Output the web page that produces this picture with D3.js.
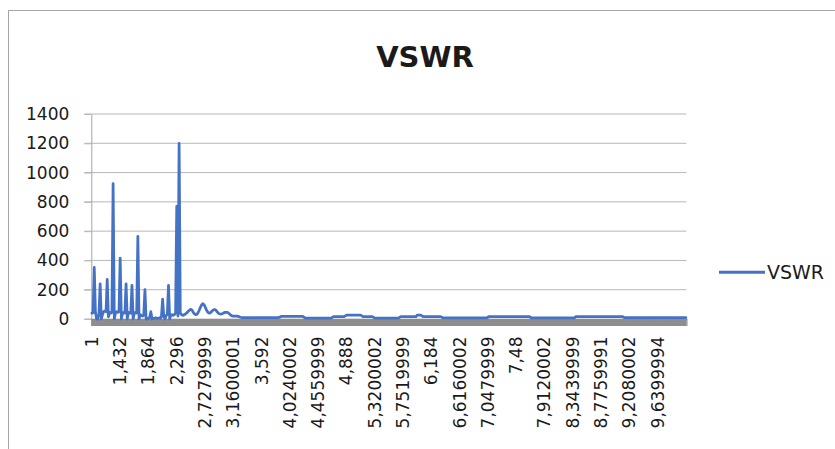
<!DOCTYPE html>
<html>
<head>
<meta charset="utf-8">
<script src="https://cdnjs.cloudflare.com/ajax/libs/d3/7.8.5/d3.min.js"></script>
<style>
  body { margin: 0; background: #ffffff; }
  #vswr-chart text { font-family: 'DejaVu Sans', sans-serif; fill: #1a1a1a; }
</style>
</head>
<body>
<div id="vswr-chart"></div>
<script>
'use strict'

// frequency sweep: one category per point, a label on every 24th one
var CATEGORY_COUNT = 505;
var LABEL_STEP = 24;
var seriesName = 'VSWR';

var tickLabels = [
  '1', '1,432', '1,864', '2,296', '2,7279999', '3,1600001', '3,592',
  '4,0240002', '4,4559999', '4,888', '5,3200002', '5,7519999', '6,184',
  '6,6160002', '7,0479999', '7,48', '7,9120002', '8,3439999', '8,7759991',
  '9,2080002', '9,6399994'
];

var yTicks = [0, 200, 400, 600, 800, 1000, 1200, 1400];

// category index of each read point
var pointIndex = [
  0, 1, 2, 3, 4, 5, 6, 7, 8, 9, 10, 11, 12, 13, 14, 15, 16, 17, 18, 19,
  20, 21, 22, 23, 24, 25, 26, 27, 28, 29, 30, 31, 32, 33, 34, 35, 36, 37, 38, 39,
  40, 41, 42, 43, 44, 45, 46, 47, 48, 49, 50, 51, 52, 53, 54, 55, 56, 57, 58, 59,
  60, 61, 62, 63, 64, 65, 66, 67, 68, 69, 70, 71, 72, 73, 74, 75, 76, 77, 78, 79,
  80, 81, 82, 83, 84, 85, 86, 87, 88, 89, 90, 91, 92, 93, 94, 95, 96, 97, 98, 99,
  100, 101, 102, 103, 104, 105, 106, 107, 108, 109, 110, 111, 112, 113, 114, 115, 116, 117, 118, 119,
  120, 121, 122, 123, 124, 125, 126, 127,
  129, 158, 161, 179, 181, 203, 205, 214, 216, 228, 230, 238, 240, 260, 262, 275,
  276, 279, 281, 296, 298, 335, 337, 371, 373, 409, 411, 450, 452, 504
];

// VSWR read at those points
var vswr = [
  40, 42, 352, 50, 0, 0, 35, 240, 0, 30, 50, 55, 50, 270, 15, 45, 40, 45, 925, 0,
  40, 50, 45, 50, 415, 0, 40, 45, 40, 240, 0, 45, 40, 40, 230, 0, 40, 45, 40, 565,
  0, 30, 25, 20, 25, 200, 0, 0, 5, 10, 50, 0, 5, 5, 8, 5, 5, 8, 5, 15,
  135, 20, 0, 25, 30, 230, 0, 25, 30, 25, 30, 40, 770, 20, 1200, 40, 30, 25, 28, 32,
  38, 45, 55, 62, 66, 60, 45, 35, 30, 32, 42, 58, 78, 95, 104, 100, 85, 65, 50, 42,
  40, 45, 55, 62, 65, 62, 52, 42, 36, 34, 35, 38, 42, 45, 46, 45, 40, 32, 25, 21,
  19, 19, 20, 20, 18, 15, 12, 10,
  9, 9, 18, 18, 6, 6, 16, 16, 26, 26, 16, 16, 6, 6, 16, 16,
  27, 27, 16, 16, 7, 7, 17, 17, 7, 7, 17, 17, 9, 9
];

var app = {
  init: function() {
    this.dimensions = { width: 835, height: 449 };
    this.plot = { left: 91.3, right: 686.5, top: 114, bottom: 319 };
    this.tickLength = 7;

    this.svg = d3.select('#vswr-chart')
      .append('svg')
      .attr('width', app.dimensions.width)
      .attr('height', app.dimensions.height)
      .style('display', 'block');

    // chart frame, only the top and left edges fall inside the picture
    app.svg.append('rect')
      .attr('x', 8.5)
      .attr('y', 10.5)
      .attr('width', 900)
      .attr('height', 500)
      .attr('style', 'fill: #ffffff; stroke: #a6a6a6; stroke-width: 1;');

    this.x = d3.scaleLinear()
      .domain([0, CATEGORY_COUNT])
      .range([app.plot.left, app.plot.right]);

    this.y = d3.scaleLinear()
      .domain([0, 1400])
      .range([app.plot.bottom, app.plot.top]);

    app.draw();
  },

  draw: function() {
    var x = app.x;
    var y = app.y;

    app.svg.append('text')
      .attr('x', 425)
      .attr('y', 66.7)
      .attr('text-anchor', 'middle')
      .style('font-size', '29px')
      .style('font-weight', 'bold')
      .text(seriesName);

    //Gridlines
    app.svg.append('g')
      .attr('id', 'grid')
      .selectAll('line')
      .data(yTicks)
      .enter()
      .append('line')
      .attr('x1', app.plot.left - app.tickLength)
      .attr('x2', app.plot.right)
      .attr('y1', function(d) { return y(d); })
      .attr('y2', function(d) { return y(d); })
      .attr('style', 'stroke: #b8b8b8; stroke-width: 1;');

    //Y axis
    var yAxis = app.svg.append('g')
      .attr('id', 'y-axis')
      .attr('transform', 'translate(' + app.plot.left + ', 0)')
      .call(d3.axisLeft(y)
        .tickValues(yTicks)
        .tickFormat(d3.format('d'))
        .tickSize(app.tickLength)
        .tickSizeOuter(0)
        .tickPadding(15));
    yAxis.select('.domain').attr('style', 'stroke: #a6a6a6;');
    yAxis.selectAll('.tick line').attr('style', 'stroke: #b8b8b8;');
    yAxis.selectAll('text')
      .style('font-size', '17px')
      .attr('fill', null);

    //Category tick marks: one per point, so dense they merge into a grey band
    var xAxis = app.svg.append('g')
      .attr('id', 'x-axis')
      .attr('transform', 'translate(0, ' + app.plot.bottom + ')');
    xAxis.append('rect')
      .attr('x', x(0))
      .attr('y', 0)
      .attr('width', x(CATEGORY_COUNT) - x(0))
      .attr('height', app.tickLength)
      .attr('style', 'fill: #8e8e8e;');
    xAxis.call(d3.axisBottom(x)
        .tickValues(d3.range(CATEGORY_COUNT + 1))
        .tickSize(app.tickLength)
        .tickSizeOuter(0)
        .tickFormat(''));
    xAxis.select('.domain').attr('style', 'stroke: #8c8c8c;');
    xAxis.selectAll('.tick line').attr('style', 'stroke: #8e8e8e; stroke-width: 1;');

    app.svg.append('g')
      .attr('id', 'x-labels')
      .selectAll('text')
      .data(tickLabels)
      .enter()
      .append('text')
      .attr('transform', function(d, i) {
        return 'translate(' + x(i * LABEL_STEP + 0.5) + ', 336.5) rotate(-90)';
      })
      .attr('text-anchor', 'end')
      .attr('dy', '0.35em')
      .style('font-size', '17px')
      .text(function(d) { return d; });

    //VSWR line
    var points = pointIndex.map(function(d, i) { return { i: d, v: vswr[i] }; });
    var vswrLine = d3.line()
      .x(function(d) { return x(d.i + 0.5); })
      .y(function(d) { return y(d.v); });

    app.svg.append('path')
      .datum(points)
      .attr('id', 'vswr-line')
      .attr('d', vswrLine)
      .attr('style', 'stroke: #4472c4; stroke-width: 2.75; fill: none; stroke-linejoin: round; stroke-linecap: round;');

    //Legend
    var legend = app.svg.append('g').attr('id', 'legend');
    legend.append('line')
      .attr('x1', 719)
      .attr('x2', 765)
      .attr('y1', 272.3)
      .attr('y2', 272.3)
      .attr('style', 'stroke: #4472c4; stroke-width: 3;');
    legend.append('text')
      .attr('x', 767)
      .attr('y', 279.3)
      .style('font-size', '19px')
      .text(seriesName);
  }
};

app.init();
</script>
</body>
</html>
